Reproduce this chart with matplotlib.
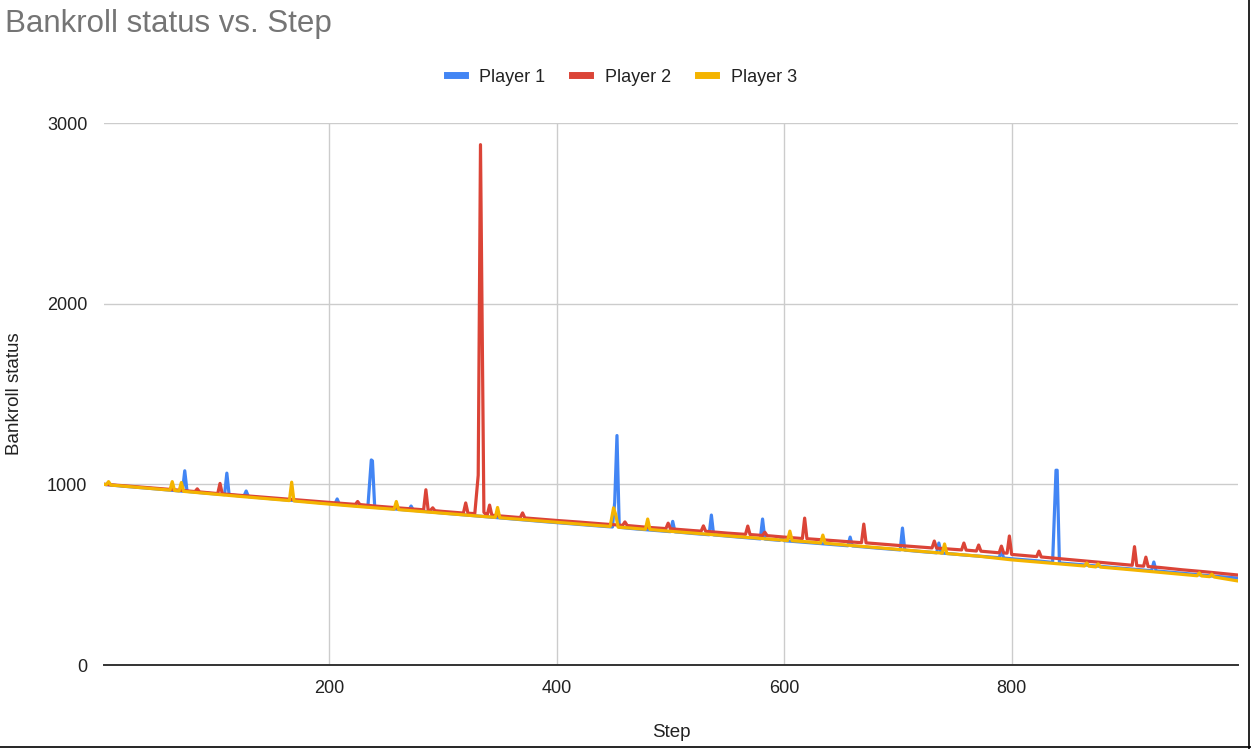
import matplotlib.pyplot as plt
from matplotlib.lines import Line2D

# Player 1 (blue) - steps and bankroll values
p1_steps = [2, 20, 40, 60, 71, 73, 75, 90, 108, 110, 112, 125, 127, 129, 150, 180,
            205, 207, 209, 225, 234, 237, 238, 240, 255, 270, 272, 274, 300, 330,
            360, 390, 420, 440, 449, 451, 453, 455, 470, 500, 502, 504, 520, 534,
            536, 538, 560, 579, 581, 583, 596, 598, 600, 620, 656, 658, 660, 680,
            702, 704, 706, 720, 734, 736, 738, 760, 789, 791, 793, 800, 820, 836,
            839, 840, 842, 860, 880, 900, 923, 925, 927, 950, 975, 999]
p1_vals = [1000, 989, 979, 968, 962, 1075, 961, 952, 943, 1062, 942, 934, 963, 932, 920, 905,
           891, 919, 889, 881, 876, 1135, 1130, 873, 865, 857, 880, 856, 841, 825,
           809, 793, 778, 768, 764, 900, 1270, 762, 753, 738, 795, 737, 728, 721,
           830, 720, 708, 698, 808, 697, 690, 705, 688, 678, 660, 708, 659, 648,
           637, 758, 636, 628, 621, 675, 620, 608, 594, 630, 592, 588, 578, 568,
           1078, 1078, 565, 556, 545, 534, 522, 570, 521, 508, 493, 481]

# Player 2 (red)
p2_steps = [2, 20, 40, 60, 82, 84, 86, 100, 102, 104, 106, 120, 140, 160, 180, 200,
            223, 225, 227, 240, 260, 283, 285, 287, 289, 291, 293, 300, 318, 320,
            322, 328, 331, 333, 336, 338, 339, 341, 343, 360, 368, 370, 372, 380,
            400, 420, 440, 458, 460, 462, 480, 496, 498, 500, 520, 527, 529, 531,
            550, 566, 568, 570, 581, 583, 585, 600, 616, 618, 620, 640, 668, 670,
            672, 700, 730, 732, 734, 756, 758, 760, 769, 771, 773, 789, 791, 793,
            796, 798, 800, 822, 824, 826, 850, 880, 906, 908, 910, 916, 918, 920,
            930, 950, 970, 999]
p2_vals = [1000, 992, 982, 972, 960, 975, 958, 950, 949, 1005, 947, 940, 930, 920, 910, 900,
           889, 905, 888, 880, 870, 859, 970, 857, 856, 870, 854, 850, 841, 897,
           840, 838, 1050, 2880, 845, 832, 831, 885, 829, 820, 816, 842, 814, 810,
           800, 791, 781, 773, 792, 772, 762, 755, 785, 754, 744, 741, 770, 740,
           730, 723, 769, 722, 717, 735, 716, 708, 700, 813, 699, 690, 677, 780,
           676, 662, 648, 686, 647, 637, 675, 636, 631, 664, 630, 621, 658, 620,
           619, 714, 612, 600, 630, 598, 584, 567, 552, 655, 550, 547, 597, 545,
           540, 527, 516, 498]

# Player 3 (yellow)
p3_steps = [2, 4, 6, 8, 30, 45, 60, 62, 64, 68, 70, 72, 90, 120, 150, 165, 167, 169,
            190, 220, 240, 257, 259, 261, 280, 300, 320, 346, 348, 350, 380, 410,
            430, 447, 450, 452, 454, 465, 478, 480, 482, 500, 530, 560, 603, 605,
            607, 620, 632, 634, 636, 660, 700, 739, 741, 743, 770, 800, 830, 864,
            866, 868, 874, 876, 878, 900, 930, 963, 965, 967, 974, 976, 978, 999]
p3_vals = [1000, 998, 1015, 996, 984, 976, 968, 1015, 966, 963, 1010, 961, 951, 934, 918, 910, 1012, 908,
           896, 880, 870, 862, 905, 860, 850, 840, 830, 817, 872, 815, 800, 785,
           775, 767, 870, 830, 763, 758, 751, 808, 750, 740, 725, 710, 689, 741,
           688, 682, 675, 719, 674, 661, 640, 619, 670, 617, 603, 582, 566, 548,
           565, 547, 543, 560, 542, 530, 513, 494, 510, 493, 489, 503, 487, 465]

series = [("Player 1", p1_steps, p1_vals, "#4285F4"),
          ("Player 2", p2_steps, p2_vals, "#DB4437"),
          ("Player 3", p3_steps, p3_vals, "#F4B400")]

plt.rcParams['font.family'] = ['Liberation Sans', 'DejaVu Sans']

fig = plt.figure(figsize=(12.51, 7.49), dpi=100)
ax = fig.add_axes([104 / 1251, 84 / 749, 1134 / 1251, 542 / 749])

for name, xs, ys, col in series:
    ax.plot(xs, ys, color=col, lw=2.3, solid_joinstyle='round', label=name)

ax.set_xlim(2, 999)
ax.set_ylim(0, 3000)
ax.set_xticks([200, 400, 600, 800])
ax.set_yticks([0, 1000, 2000, 3000])
ax.grid(True, color="#cccccc", lw=1)
ax.set_axisbelow(True)
for s in ["top", "right", "left"]:
    ax.spines[s].set_visible(False)
ax.spines["bottom"].set_color("#333333")
ax.spines["bottom"].set_linewidth(1.4)
ax.tick_params(length=0, labelsize=13, colors="#222222", pad=11)
ax.tick_params(axis='y', pad=12)

ax.set_xlabel("Step", fontsize=13.5, color="#222222", labelpad=19)
ax.set_ylabel("Bankroll status", fontsize=13.5, color="#222222", labelpad=17)

fig.text(5 / 1251, 1 - 24 / 749, "Bankroll status vs. Step", fontsize=22.5,
         color="#757575", va="center", ha="left")

handles = [Line2D([], [], color=c, lw=5) for _, _, _, c in series]
fig.legend(handles, [s[0] for s in series], loc="center", bbox_to_anchor=(0.497, 1 - 77 / 749),
           ncol=3, frameon=False, fontsize=13, handlelength=1.0, handletextpad=0.8,
           columnspacing=1.5, labelcolor="#222222")

# screenshot frame on right and bottom
fig.add_artist(Line2D([1249 / 1251, 1249 / 1251], [0, 1], color="black", lw=1.2))
fig.add_artist(Line2D([0, 1], [2 / 749, 2 / 749], color="black", lw=1.2))

fig.savefig("out.png", dpi=100)
